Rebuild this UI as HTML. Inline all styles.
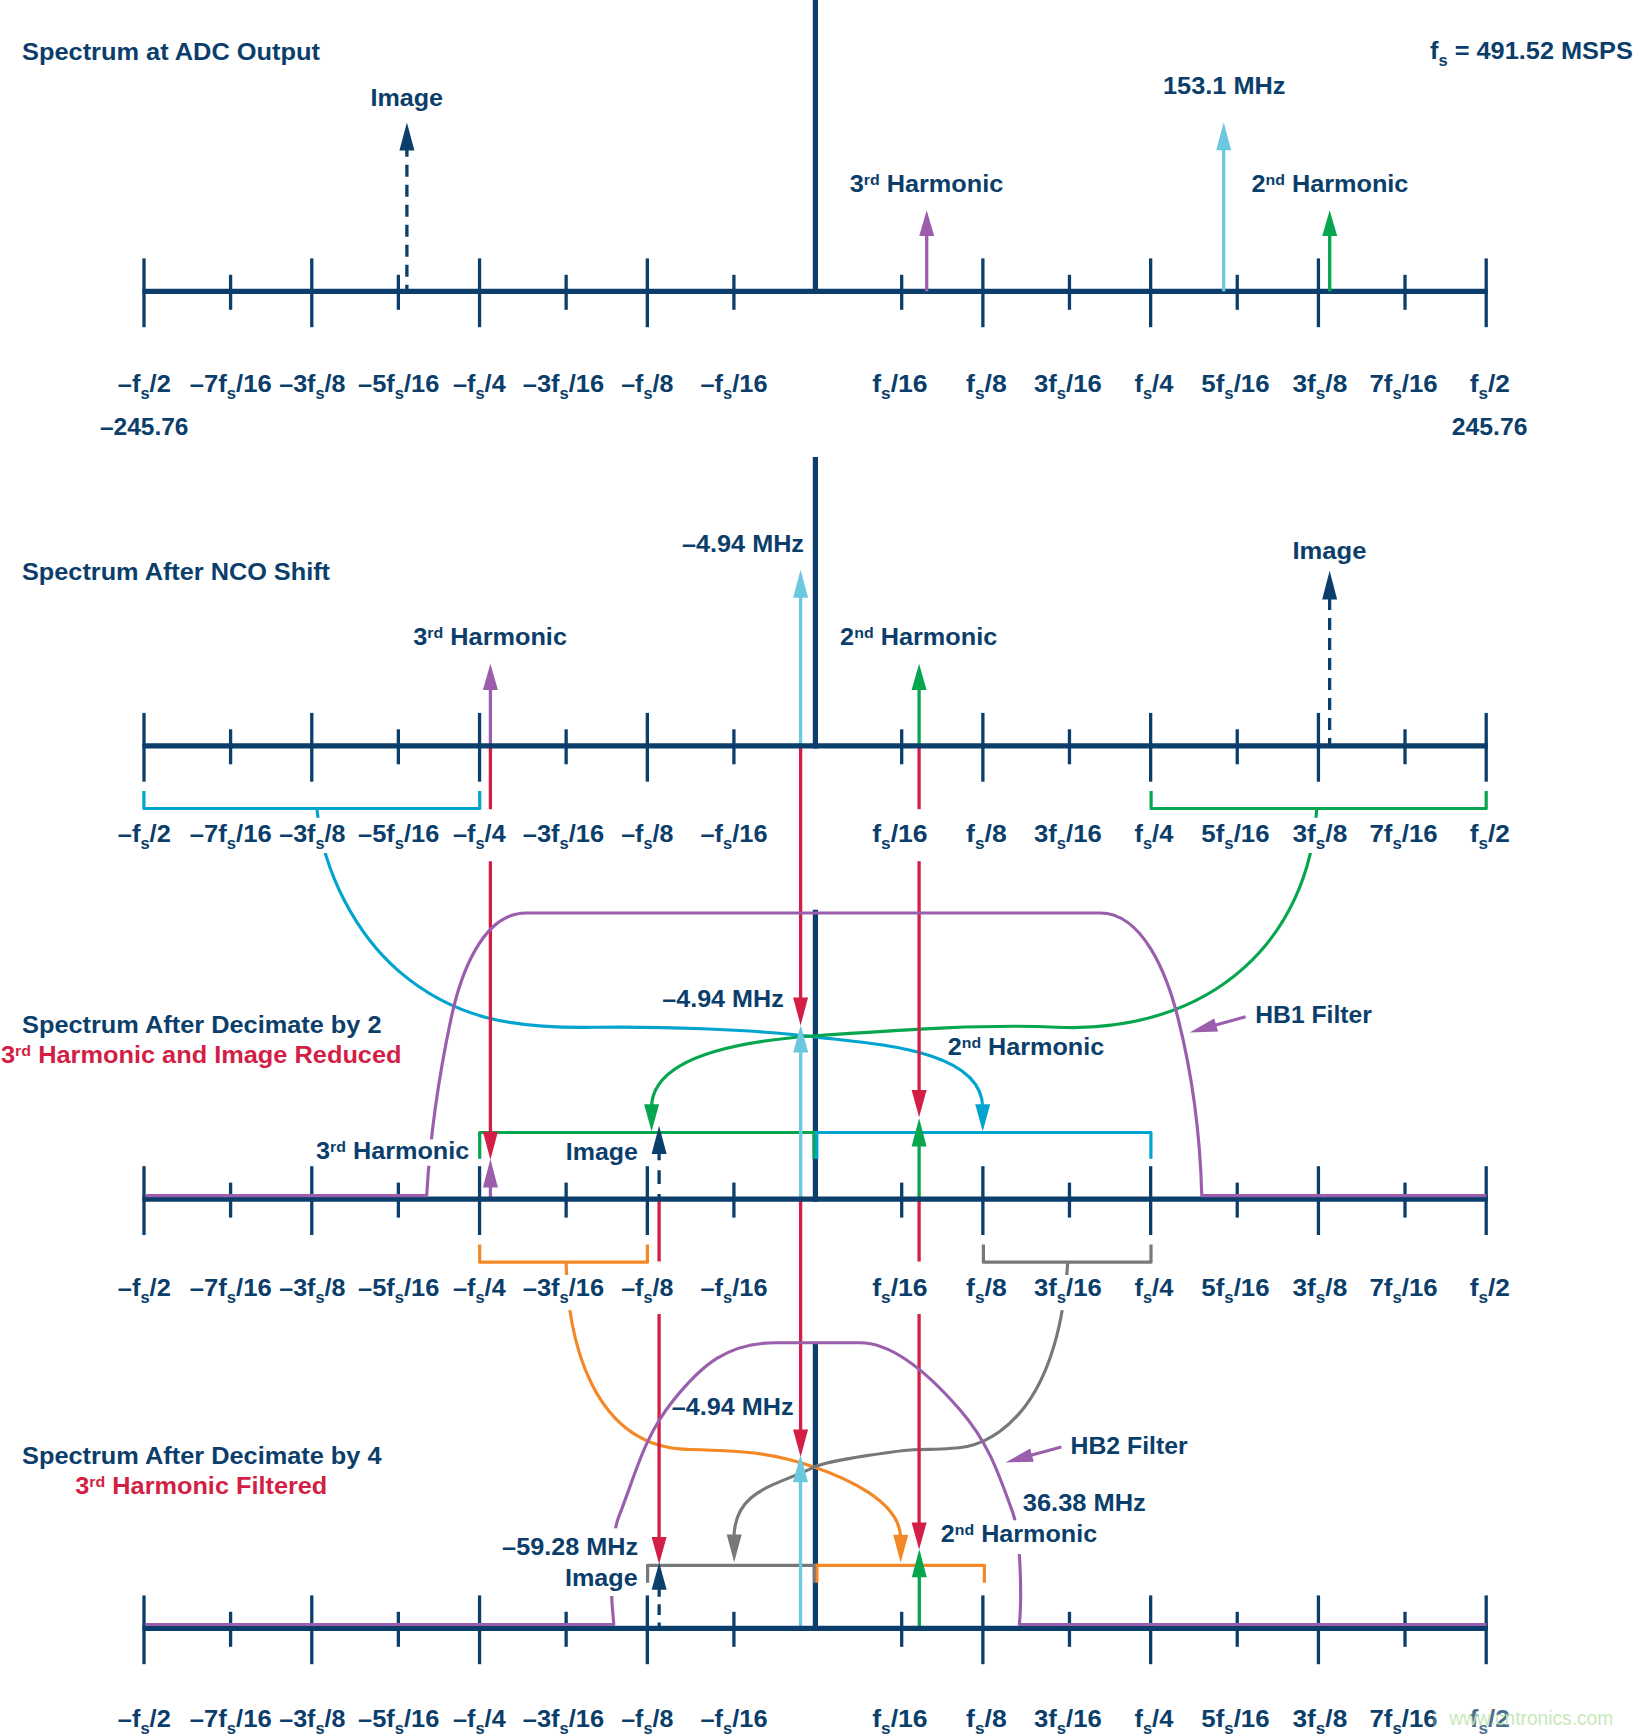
<!DOCTYPE html>
<html><head><meta charset="utf-8"><title>Spectrum decimation diagram</title>
<style>html,body{margin:0;padding:0;background:#fff}svg{display:block}text{font-family:"Liberation Sans",Arial,sans-serif;font-weight:700;white-space:pre}</style>
</head><body>
<svg width="1633" height="1734" viewBox="0 0 1633 1734">
<rect width="1633" height="1734" fill="#fff"/>
<line x1="815.4" y1="457" x2="815.4" y2="748.5" stroke="#0B3E6A" stroke-width="5.2"/>
<line x1="815.4" y1="909.7" x2="815.4" y2="1201.8" stroke="#0B3E6A" stroke-width="5.2"/>
<line x1="815.4" y1="1343.5" x2="815.4" y2="1631.0" stroke="#0B3E6A" stroke-width="5.2"/>
<path d="M317.0,809.6 C323.1,874.1 357.6,935.4 398.2,970.6 C454.3,1019.2 513.6,1028.6 594.5,1027.3 C655.7,1026.3 749.2,1029.0 814.8,1036.9 C873.4,1043.9 982.7,1048.9 982.7,1108.0" fill="none" stroke="#00A4CE" stroke-width="3.15" stroke-linejoin="round"/>
<path d="M1316.7,809.6 C1312.6,874.5 1286.6,929.1 1245.0,966.9 C1196.5,1011.1 1129.7,1030.5 1056.8,1027.2 C982.0,1023.8 894.8,1030.4 815.4,1035.8 C756.0,1039.9 651.5,1052.2 651.5,1108.0" fill="none" stroke="#06A64F" stroke-width="3.15" stroke-linejoin="round"/>
<path d="M566.2,1262.0 C566.9,1340.9 593.6,1446.6 687.1,1449.4 C739.4,1450.9 768.1,1451.4 812.5,1466.4 C844.2,1477.1 900.6,1501.1 900.6,1538.0" fill="none" stroke="#F48826" stroke-width="3.15" stroke-linejoin="round"/>
<path d="M1067.7,1262.0 C1064.1,1322.9 1048.3,1396.5 999.7,1431.5 C972.9,1450.8 955.3,1448.4 913.5,1449.7 C906.1,1449.9 829.5,1459.5 813.5,1467.4 C776.4,1485.7 734.0,1489.8 734.0,1538.0" fill="none" stroke="#77787B" stroke-width="3.15" stroke-linejoin="round"/>
<rect x="279" y="817.8" width="67" height="35.2" fill="#fff"/>
<rect x="1291" y="817.8" width="57" height="35.2" fill="#fff"/>
<rect x="522" y="1275" width="83" height="35.2" fill="#fff"/>
<rect x="1033" y="1275" width="70" height="35.2" fill="#fff"/>
<polygon points="982.7,1131.6 990.2,1104.3 975.2,1104.3" fill="#00A4CE"/>
<polygon points="651.6,1131.6 659.1,1104.3 644.1,1104.3" fill="#06A64F"/>
<polygon points="900.7,1562.7 908.2,1534.8 893.2,1534.8" fill="#F48826"/>
<polygon points="734.2,1562.3 741.7,1534.6 726.7,1534.6" fill="#77787B"/>
<path d="M143.9,791.1 V808.5 H479.7 V791.1" fill="none" stroke="#00A4CE" stroke-width="3.2" stroke-linejoin="round"/>
<path d="M1151.1,791.1 V808.5 H1486.2 V791.1" fill="none" stroke="#06A64F" stroke-width="3.2" stroke-linejoin="round"/>
<path d="M479.7,1244.5 V1262.2 H647.4 V1244.5" fill="none" stroke="#F48826" stroke-width="3.2" stroke-linejoin="round"/>
<path d="M983.4,1244.5 V1262.2 H1151 V1244.5" fill="none" stroke="#77787B" stroke-width="3.2" stroke-linejoin="round"/>
<path d="M479.7,1158.8 V1132.5 H815" fill="none" stroke="#06A64F" stroke-width="3.2" stroke-linejoin="round"/>
<path d="M815,1132.5 H1150.9 V1158.8" fill="none" stroke="#00A4CE" stroke-width="3.2" stroke-linejoin="round"/>
<line x1="813.7" y1="1130.9" x2="813.7" y2="1158.8" stroke="#06A64F" stroke-width="2.6"/>
<line x1="816.7" y1="1130.9" x2="816.7" y2="1158.8" stroke="#00A4CE" stroke-width="3.4"/>
<path d="M647.6,1582.7 V1565.4 H815" fill="none" stroke="#77787B" stroke-width="3.2" stroke-linejoin="round"/>
<path d="M815.5,1565.4 H984.4 V1582.7" fill="none" stroke="#F48826" stroke-width="3.2" stroke-linejoin="round"/>
<line x1="814.2" y1="1563.8" x2="814.2" y2="1582.7" stroke="#77787B" stroke-width="2.9"/>
<line x1="817" y1="1563.8" x2="817" y2="1582.7" stroke="#F48826" stroke-width="3.0"/>
<line x1="490.4" y1="745.9" x2="490.4" y2="809.2" stroke="#D31F45" stroke-width="3.3"/>
<line x1="490.4" y1="861.2" x2="490.4" y2="1140" stroke="#D31F45" stroke-width="3.3"/>
<polygon points="490.4,1159.7 497.9,1131.7 482.9,1131.7" fill="#D31F45"/>
<line x1="800.6" y1="745.9" x2="800.6" y2="1000" stroke="#D31F45" stroke-width="3.3"/>
<polygon points="800.6,1025.4 808.1,997.4 793.1,997.4" fill="#D31F45"/>
<line x1="919.1" y1="745.9" x2="919.1" y2="809.2" stroke="#D31F45" stroke-width="3.3"/>
<line x1="919.1" y1="861.2" x2="919.1" y2="1092" stroke="#D31F45" stroke-width="3.3"/>
<polygon points="919.1,1117.3 926.6,1090.0 911.6,1090.0" fill="#D31F45"/>
<line x1="659.1" y1="1199.2" x2="659.1" y2="1261.5" stroke="#D31F45" stroke-width="3.3"/>
<line x1="659.1" y1="1314" x2="659.1" y2="1540" stroke="#D31F45" stroke-width="3.3"/>
<polygon points="659.1,1564.0 666.6,1537.1 651.6,1537.1" fill="#D31F45"/>
<line x1="800.6" y1="1199.2" x2="800.6" y2="1432" stroke="#D31F45" stroke-width="3.3"/>
<polygon points="800.6,1457.0 808.1,1429.5 793.1,1429.5" fill="#D31F45"/>
<line x1="919.1" y1="1199.2" x2="919.1" y2="1261.5" stroke="#D31F45" stroke-width="3.3"/>
<line x1="919.1" y1="1314" x2="919.1" y2="1525" stroke="#D31F45" stroke-width="3.3"/>
<polygon points="919.1,1549.6 926.6,1522.5 911.6,1522.5" fill="#D31F45"/>
<line x1="490.4" y1="688.0" x2="490.4" y2="745.9" stroke="#9A5EAD" stroke-width="3.3"/>
<polygon points="490.4,663.6999999999999 497.9,690.0 482.9,690.0" fill="#9A5EAD"/>
<line x1="800.6" y1="595.7" x2="800.6" y2="745.9" stroke="#6CC8DF" stroke-width="3.3"/>
<polygon points="800.6,569.8 808.1,597.7 793.1,597.7" fill="#6CC8DF"/>
<line x1="919.1" y1="688.0" x2="919.1" y2="745.9" stroke="#06A64F" stroke-width="3.3"/>
<polygon points="919.1,663.6999999999999 926.6,690.0 911.6,690.0" fill="#06A64F"/>
<line x1="1329.65" y1="598" x2="1329.65" y2="745.9" stroke="#0B3E6A" stroke-width="3.3" stroke-dasharray="12 8"/>
<polygon points="1329.65,570.8 1337.15,599.5 1322.15,599.5" fill="#0B3E6A"/>
<line x1="490.4" y1="1185.5" x2="490.4" y2="1199.2" stroke="#9A5EAD" stroke-width="3.3"/>
<polygon points="490.4,1159.1 497.9,1187.5 482.9,1187.5" fill="#9A5EAD"/>
<line x1="800.7" y1="1050.6" x2="800.7" y2="1199.2" stroke="#6CC8DF" stroke-width="3.3"/>
<polygon points="800.7,1025.1 808.2,1052.6 793.2,1052.6" fill="#6CC8DF"/>
<line x1="919.1" y1="1144.5" x2="919.1" y2="1199.2" stroke="#06A64F" stroke-width="3.3"/>
<polygon points="919.1,1118.3 926.6,1146.5 911.6,1146.5" fill="#06A64F"/>
<line x1="659.1" y1="1146.6" x2="659.1" y2="1199.2" stroke="#0B3E6A" stroke-width="3.3" stroke-dasharray="13.7 10"/>
<polygon points="659.1,1125.7 666.6,1154.0 651.6,1154.0" fill="#0B3E6A"/>
<line x1="800.5" y1="1480.2" x2="800.5" y2="1628.4" stroke="#6CC8DF" stroke-width="3.3"/>
<polygon points="800.5,1454.7 808.0,1482.2 793.0,1482.2" fill="#6CC8DF"/>
<line x1="919.3" y1="1575.3000000000002" x2="919.3" y2="1628.4" stroke="#06A64F" stroke-width="3.3"/>
<polygon points="919.3,1549.2 926.8,1577.3000000000002 911.8,1577.3000000000002" fill="#06A64F"/>
<line x1="659.15" y1="1586" x2="659.15" y2="1628.4" stroke="#0B3E6A" stroke-width="3.3" stroke-dasharray="10.7 7.5"/>
<polygon points="659.15,1562.6 666.65,1589.7 651.65,1589.7" fill="#0B3E6A"/>
<line x1="142.4" y1="291.4" x2="1487.8" y2="291.4" stroke="#0B3E6A" stroke-width="5.2"/>
<line x1="815.4" y1="0" x2="815.4" y2="294.0" stroke="#0B3E6A" stroke-width="5.2"/>
<line x1="144.00" y1="258.4" x2="144.00" y2="327.2" stroke="#0B3E6A" stroke-width="3.3"/>
<line x1="230.59" y1="274.8" x2="230.59" y2="309.8" stroke="#0B3E6A" stroke-width="3.3"/>
<line x1="311.77" y1="258.4" x2="311.77" y2="327.2" stroke="#0B3E6A" stroke-width="3.3"/>
<line x1="398.36" y1="274.8" x2="398.36" y2="309.8" stroke="#0B3E6A" stroke-width="3.3"/>
<line x1="479.55" y1="258.4" x2="479.55" y2="327.2" stroke="#0B3E6A" stroke-width="3.3"/>
<line x1="566.14" y1="274.8" x2="566.14" y2="309.8" stroke="#0B3E6A" stroke-width="3.3"/>
<line x1="647.33" y1="258.4" x2="647.33" y2="327.2" stroke="#0B3E6A" stroke-width="3.3"/>
<line x1="733.91" y1="274.8" x2="733.91" y2="309.8" stroke="#0B3E6A" stroke-width="3.3"/>
<line x1="901.69" y1="274.8" x2="901.69" y2="309.8" stroke="#0B3E6A" stroke-width="3.3"/>
<line x1="982.88" y1="258.4" x2="982.88" y2="327.2" stroke="#0B3E6A" stroke-width="3.3"/>
<line x1="1069.46" y1="274.8" x2="1069.46" y2="309.8" stroke="#0B3E6A" stroke-width="3.3"/>
<line x1="1150.65" y1="258.4" x2="1150.65" y2="327.2" stroke="#0B3E6A" stroke-width="3.3"/>
<line x1="1237.24" y1="274.8" x2="1237.24" y2="309.8" stroke="#0B3E6A" stroke-width="3.3"/>
<line x1="1318.42" y1="258.4" x2="1318.42" y2="327.2" stroke="#0B3E6A" stroke-width="3.3"/>
<line x1="1405.01" y1="274.8" x2="1405.01" y2="309.8" stroke="#0B3E6A" stroke-width="3.3"/>
<line x1="1486.20" y1="258.4" x2="1486.20" y2="327.2" stroke="#0B3E6A" stroke-width="3.3"/>
<line x1="406.9" y1="144.7" x2="406.9" y2="291.4" stroke="#0B3E6A" stroke-width="3.3" stroke-dasharray="12 8"/>
<polygon points="406.9,122.6 414.4,150.5 399.4,150.5" fill="#0B3E6A"/>
<line x1="926.7" y1="233.9" x2="926.7" y2="291.4" stroke="#9A5EAD" stroke-width="3.3"/>
<polygon points="926.7,210.20000000000002 934.2,235.9 919.2,235.9" fill="#9A5EAD"/>
<line x1="1223.7" y1="148.2" x2="1223.7" y2="291.4" stroke="#6CC8DF" stroke-width="3.3"/>
<polygon points="1223.7,122.3 1231.2,150.2 1216.2,150.2" fill="#6CC8DF"/>
<line x1="1329.7" y1="234" x2="1329.7" y2="291.4" stroke="#06A64F" stroke-width="3.3"/>
<polygon points="1329.7,210.3 1337.2,236 1322.2,236" fill="#06A64F"/>
<line x1="142.4" y1="745.9" x2="1487.8" y2="745.9" stroke="#0B3E6A" stroke-width="5.2"/>
<line x1="144.00" y1="712.9" x2="144.00" y2="781.7" stroke="#0B3E6A" stroke-width="3.3"/>
<line x1="230.59" y1="729.3" x2="230.59" y2="764.3" stroke="#0B3E6A" stroke-width="3.3"/>
<line x1="311.77" y1="712.9" x2="311.77" y2="781.7" stroke="#0B3E6A" stroke-width="3.3"/>
<line x1="398.36" y1="729.3" x2="398.36" y2="764.3" stroke="#0B3E6A" stroke-width="3.3"/>
<line x1="479.55" y1="712.9" x2="479.55" y2="781.7" stroke="#0B3E6A" stroke-width="3.3"/>
<line x1="566.14" y1="729.3" x2="566.14" y2="764.3" stroke="#0B3E6A" stroke-width="3.3"/>
<line x1="647.33" y1="712.9" x2="647.33" y2="781.7" stroke="#0B3E6A" stroke-width="3.3"/>
<line x1="733.91" y1="729.3" x2="733.91" y2="764.3" stroke="#0B3E6A" stroke-width="3.3"/>
<line x1="901.69" y1="729.3" x2="901.69" y2="764.3" stroke="#0B3E6A" stroke-width="3.3"/>
<line x1="982.88" y1="712.9" x2="982.88" y2="781.7" stroke="#0B3E6A" stroke-width="3.3"/>
<line x1="1069.46" y1="729.3" x2="1069.46" y2="764.3" stroke="#0B3E6A" stroke-width="3.3"/>
<line x1="1150.65" y1="712.9" x2="1150.65" y2="781.7" stroke="#0B3E6A" stroke-width="3.3"/>
<line x1="1237.24" y1="729.3" x2="1237.24" y2="764.3" stroke="#0B3E6A" stroke-width="3.3"/>
<line x1="1318.42" y1="712.9" x2="1318.42" y2="781.7" stroke="#0B3E6A" stroke-width="3.3"/>
<line x1="1405.01" y1="729.3" x2="1405.01" y2="764.3" stroke="#0B3E6A" stroke-width="3.3"/>
<line x1="1486.20" y1="712.9" x2="1486.20" y2="781.7" stroke="#0B3E6A" stroke-width="3.3"/>
<line x1="142.4" y1="1199.2" x2="1487.8" y2="1199.2" stroke="#0B3E6A" stroke-width="5.2"/>
<line x1="144.00" y1="1166.2" x2="144.00" y2="1235.0" stroke="#0B3E6A" stroke-width="3.3"/>
<line x1="230.59" y1="1182.6" x2="230.59" y2="1217.6" stroke="#0B3E6A" stroke-width="3.3"/>
<line x1="311.77" y1="1166.2" x2="311.77" y2="1235.0" stroke="#0B3E6A" stroke-width="3.3"/>
<line x1="398.36" y1="1182.6" x2="398.36" y2="1217.6" stroke="#0B3E6A" stroke-width="3.3"/>
<line x1="479.55" y1="1166.2" x2="479.55" y2="1235.0" stroke="#0B3E6A" stroke-width="3.3"/>
<line x1="566.14" y1="1182.6" x2="566.14" y2="1217.6" stroke="#0B3E6A" stroke-width="3.3"/>
<line x1="647.33" y1="1166.2" x2="647.33" y2="1235.0" stroke="#0B3E6A" stroke-width="3.3"/>
<line x1="733.91" y1="1182.6" x2="733.91" y2="1217.6" stroke="#0B3E6A" stroke-width="3.3"/>
<line x1="901.69" y1="1182.6" x2="901.69" y2="1217.6" stroke="#0B3E6A" stroke-width="3.3"/>
<line x1="982.88" y1="1166.2" x2="982.88" y2="1235.0" stroke="#0B3E6A" stroke-width="3.3"/>
<line x1="1069.46" y1="1182.6" x2="1069.46" y2="1217.6" stroke="#0B3E6A" stroke-width="3.3"/>
<line x1="1150.65" y1="1166.2" x2="1150.65" y2="1235.0" stroke="#0B3E6A" stroke-width="3.3"/>
<line x1="1237.24" y1="1182.6" x2="1237.24" y2="1217.6" stroke="#0B3E6A" stroke-width="3.3"/>
<line x1="1318.42" y1="1166.2" x2="1318.42" y2="1235.0" stroke="#0B3E6A" stroke-width="3.3"/>
<line x1="1405.01" y1="1182.6" x2="1405.01" y2="1217.6" stroke="#0B3E6A" stroke-width="3.3"/>
<line x1="1486.20" y1="1166.2" x2="1486.20" y2="1235.0" stroke="#0B3E6A" stroke-width="3.3"/>
<line x1="142.4" y1="1628.4" x2="1487.8" y2="1628.4" stroke="#0B3E6A" stroke-width="5.2"/>
<line x1="144.00" y1="1595.4" x2="144.00" y2="1664.2" stroke="#0B3E6A" stroke-width="3.3"/>
<line x1="230.59" y1="1611.8" x2="230.59" y2="1646.8" stroke="#0B3E6A" stroke-width="3.3"/>
<line x1="311.77" y1="1595.4" x2="311.77" y2="1664.2" stroke="#0B3E6A" stroke-width="3.3"/>
<line x1="398.36" y1="1611.8" x2="398.36" y2="1646.8" stroke="#0B3E6A" stroke-width="3.3"/>
<line x1="479.55" y1="1595.4" x2="479.55" y2="1664.2" stroke="#0B3E6A" stroke-width="3.3"/>
<line x1="566.14" y1="1611.8" x2="566.14" y2="1646.8" stroke="#0B3E6A" stroke-width="3.3"/>
<line x1="647.33" y1="1595.4" x2="647.33" y2="1664.2" stroke="#0B3E6A" stroke-width="3.3"/>
<line x1="733.91" y1="1611.8" x2="733.91" y2="1646.8" stroke="#0B3E6A" stroke-width="3.3"/>
<line x1="901.69" y1="1611.8" x2="901.69" y2="1646.8" stroke="#0B3E6A" stroke-width="3.3"/>
<line x1="982.88" y1="1595.4" x2="982.88" y2="1664.2" stroke="#0B3E6A" stroke-width="3.3"/>
<line x1="1069.46" y1="1611.8" x2="1069.46" y2="1646.8" stroke="#0B3E6A" stroke-width="3.3"/>
<line x1="1150.65" y1="1595.4" x2="1150.65" y2="1664.2" stroke="#0B3E6A" stroke-width="3.3"/>
<line x1="1237.24" y1="1611.8" x2="1237.24" y2="1646.8" stroke="#0B3E6A" stroke-width="3.3"/>
<line x1="1318.42" y1="1595.4" x2="1318.42" y2="1664.2" stroke="#0B3E6A" stroke-width="3.3"/>
<line x1="1405.01" y1="1611.8" x2="1405.01" y2="1646.8" stroke="#0B3E6A" stroke-width="3.3"/>
<line x1="1486.20" y1="1595.4" x2="1486.20" y2="1664.2" stroke="#0B3E6A" stroke-width="3.3"/>
<path d="M145.8,1195.6 H426.7 L426.7,1195.6 C430.2,1133.4 438.7,1076.4 451.3,1017.4 C460.1,976.5 481.7,913.0 526.0,913.0 L1100.0,913.0 C1143.6,913.0 1167.5,976.3 1178.1,1018.5 C1192.5,1075.5 1200.2,1136.4 1201.8,1195.6 H1486.2" fill="none" stroke="#9A5EAD" stroke-width="3.15" stroke-linejoin="round"/>
<rect x="414" y="1139.4" width="30" height="26.4" fill="#fff"/>
<path d="M145.8,1624.5 H613.8 L613.8,1624.5 C610.1,1591.3 609.6,1540.1 619.0,1516.2 C636.4,1471.8 643.6,1437.3 673.4,1400.3 C701.4,1365.5 727.0,1342.7 776.0,1342.7 L860.0,1342.7 C895.7,1342.7 935.4,1381.5 959.7,1409.5 C986.6,1440.5 997.1,1468.5 1012.7,1512.4 C1020.6,1534.4 1022.0,1595.2 1019.4,1624.5 H1486.2" fill="none" stroke="#9A5EAD" stroke-width="3.15" stroke-linejoin="round"/>
<rect x="1005" y="1520.3" width="25" height="33.8" fill="#fff"/>
<rect x="600" y="1528.3" width="25" height="67.7" fill="#fff"/>
<line x1="1245.6" y1="1016.8" x2="1214" y2="1025.6" stroke="#9A5EAD" stroke-width="3.1"/>
<polygon points="1189.7,1032.4 1214.1,1018.4 1218.1,1031.6" fill="#9A5EAD"/>
<line x1="1061.3" y1="1447" x2="1030" y2="1455.6" stroke="#9A5EAD" stroke-width="3.1"/>
<polygon points="1005.5,1462.4 1030.2,1448.6 1033.7,1461.7" fill="#9A5EAD"/>
<text id="t0" transform="translate(22.00,59.80) scale(1.0320,1)" fill="#0B3E6A" font-size="24.6">Spectrum at ADC Output</text>
<text id="t1" transform="translate(1430.00,59.30) scale(1.0300,1)" fill="#0B3E6A" font-size="24.6">f<tspan font-size="16" dy="7">s</tspan><tspan dy="-7"> = 491.52 MSPS</tspan></text>
<text id="t2" transform="translate(370.40,105.90) scale(1.0226,1)" fill="#0B3E6A" font-size="24.6">Image</text>
<text id="t3" transform="translate(1163.00,94.10) scale(1.0301,1)" fill="#0B3E6A" font-size="24.6">153.1 MHz</text>
<text id="t4" transform="translate(849.70,192.00) scale(1.0276,1)" fill="#0B3E6A" font-size="24.6">3<tspan font-size="15.5" dy="-6.6">rd</tspan><tspan dy="6.6"> Harmonic</tspan></text>
<text id="t5" transform="translate(1251.40,192.00) scale(1.0274,1)" fill="#0B3E6A" font-size="24.6">2<tspan font-size="15.5" dy="-6.6">nd</tspan><tspan dy="6.6"> Harmonic</tspan></text>
<text id="t6" transform="translate(99.90,434.90) scale(0.9966,1)" fill="#0B3E6A" font-size="24.6">–245.76</text>
<text id="t7" transform="translate(1451.70,434.90) scale(1.0075,1)" fill="#0B3E6A" font-size="24.6">245.76</text>
<text id="t8" transform="translate(22.00,579.70) scale(1.0277,1)" fill="#0B3E6A" font-size="24.6">Spectrum After NCO Shift</text>
<text id="t9" transform="translate(682.00,552.20) scale(1.0259,1)" fill="#0B3E6A" font-size="24.6">–4.94 MHz</text>
<text id="t10" transform="translate(413.30,645.00) scale(1.0283,1)" fill="#0B3E6A" font-size="24.6">3<tspan font-size="15.5" dy="-6.6">rd</tspan><tspan dy="6.6"> Harmonic</tspan></text>
<text id="t11" transform="translate(1292.50,559.20) scale(1.0395,1)" fill="#0B3E6A" font-size="24.6">Image</text>
<text id="t12" transform="translate(840.10,645.00) scale(1.0281,1)" fill="#0B3E6A" font-size="24.6">2<tspan font-size="15.5" dy="-6.6">nd</tspan><tspan dy="6.6"> Harmonic</tspan></text>
<text id="t13" transform="translate(22.00,1033.40) scale(1.0304,1)" fill="#0B3E6A" font-size="24.6">Spectrum After Decimate by 2</text>
<text id="t14" transform="translate(1.00,1062.70) scale(1.0311,1)" fill="#D31F45" font-size="24.6">3<tspan font-size="15.5" dy="-6.6">rd</tspan><tspan dy="6.6"> Harmonic and Image Reduced</tspan></text>
<text id="t15" transform="translate(1255.30,1023.00) scale(1.0037,1)" fill="#0B3E6A" font-size="24.6">HB1 Filter</text>
<text id="t16" transform="translate(947.70,1054.80) scale(1.0235,1)" fill="#0B3E6A" font-size="24.6">2<tspan font-size="15.5" dy="-6.6">nd</tspan><tspan dy="6.6"> Harmonic</tspan></text>
<text id="t17" transform="translate(662.20,1007.10) scale(1.0225,1)" fill="#0B3E6A" font-size="24.6">–4.94 MHz</text>
<text id="t18" transform="translate(316.00,1158.80) scale(1.0263,1)" fill="#0B3E6A" font-size="24.6">3<tspan font-size="15.5" dy="-6.6">rd</tspan><tspan dy="6.6"> Harmonic</tspan></text>
<text id="t19" transform="translate(565.80,1159.50) scale(1.0142,1)" fill="#0B3E6A" font-size="24.6">Image</text>
<text id="t20" transform="translate(22.00,1464.00) scale(1.0304,1)" fill="#0B3E6A" font-size="24.6">Spectrum After Decimate by 4</text>
<text id="t21" transform="translate(75.30,1493.60) scale(1.0285,1)" fill="#D31F45" font-size="24.6">3<tspan font-size="15.5" dy="-6.6">rd</tspan><tspan dy="6.6"> Harmonic Filtered</tspan></text>
<text id="t22" transform="translate(671.80,1414.70) scale(1.0250,1)" fill="#0B3E6A" font-size="24.6">–4.94 MHz</text>
<text id="t23" transform="translate(502.10,1554.80) scale(1.0263,1)" fill="#0B3E6A" font-size="24.6">–59.28 MHz</text>
<text id="t24" transform="translate(564.90,1586.00) scale(1.0240,1)" fill="#0B3E6A" font-size="24.6">Image</text>
<text id="t25" transform="translate(1070.60,1454.40) scale(1.0071,1)" fill="#0B3E6A" font-size="24.6">HB2 Filter</text>
<text id="t26" transform="translate(1022.80,1510.60) scale(1.0351,1)" fill="#0B3E6A" font-size="24.6">36.38 MHz</text>
<text id="t27" transform="translate(940.80,1542.00) scale(1.0228,1)" fill="#0B3E6A" font-size="24.6">2<tspan font-size="15.5" dy="-6.6">nd</tspan><tspan dy="6.6"> Harmonic</tspan></text>
<text id="t28" transform="translate(117.80,391.70) scale(1.0332,1)" fill="#0B3E6A" font-size="24.6">–f<tspan font-size="16" dy="7">s</tspan><tspan dy="-7">/2</tspan></text>
<text id="t29" transform="translate(189.80,391.70) scale(1.0412,1)" fill="#0B3E6A" font-size="24.6">–7f<tspan font-size="16" dy="7">s</tspan><tspan dy="-7">/16</tspan></text>
<text id="t30" transform="translate(279.20,391.70) scale(1.0205,1)" fill="#0B3E6A" font-size="24.6">–3f<tspan font-size="16" dy="7">s</tspan><tspan dy="-7">/8</tspan></text>
<text id="t31" transform="translate(358.00,391.70) scale(1.0349,1)" fill="#0B3E6A" font-size="24.6">–5f<tspan font-size="16" dy="7">s</tspan><tspan dy="-7">/16</tspan></text>
<text id="t32" transform="translate(453.00,391.70) scale(1.0274,1)" fill="#0B3E6A" font-size="24.6">–f<tspan font-size="16" dy="7">s</tspan><tspan dy="-7">/4</tspan></text>
<text id="t33" transform="translate(522.80,391.70) scale(1.0349,1)" fill="#0B3E6A" font-size="24.6">–3f<tspan font-size="16" dy="7">s</tspan><tspan dy="-7">/16</tspan></text>
<text id="t34" transform="translate(621.20,391.70) scale(1.0176,1)" fill="#0B3E6A" font-size="24.6">–f<tspan font-size="16" dy="7">s</tspan><tspan dy="-7">/8</tspan></text>
<text id="t35" transform="translate(700.50,391.70) scale(1.0326,1)" fill="#0B3E6A" font-size="24.6">–f<tspan font-size="16" dy="7">s</tspan><tspan dy="-7">/16</tspan></text>
<text id="t36" transform="translate(872.20,391.70) scale(1.0816,1)" fill="#0B3E6A" font-size="24.6">f<tspan font-size="16" dy="7">s</tspan><tspan dy="-7">/16</tspan></text>
<text id="t37" transform="translate(966.10,391.70) scale(1.0817,1)" fill="#0B3E6A" font-size="24.6">f<tspan font-size="16" dy="7">s</tspan><tspan dy="-7">/8</tspan></text>
<text id="t38" transform="translate(1034.00,391.70) scale(1.0418,1)" fill="#0B3E6A" font-size="24.6">3f<tspan font-size="16" dy="7">s</tspan><tspan dy="-7">/16</tspan></text>
<text id="t39" transform="translate(1134.40,391.70) scale(1.0339,1)" fill="#0B3E6A" font-size="24.6">f<tspan font-size="16" dy="7">s</tspan><tspan dy="-7">/4</tspan></text>
<text id="t40" transform="translate(1201.30,391.70) scale(1.0510,1)" fill="#0B3E6A" font-size="24.6">5f<tspan font-size="16" dy="7">s</tspan><tspan dy="-7">/16</tspan></text>
<text id="t41" transform="translate(1292.50,391.70) scale(1.0683,1)" fill="#0B3E6A" font-size="24.6">3f<tspan font-size="16" dy="7">s</tspan><tspan dy="-7">/8</tspan></text>
<text id="t42" transform="translate(1369.40,391.70) scale(1.0510,1)" fill="#0B3E6A" font-size="24.6">7f<tspan font-size="16" dy="7">s</tspan><tspan dy="-7">/16</tspan></text>
<text id="t43" transform="translate(1469.80,391.70) scale(1.0684,1)" fill="#0B3E6A" font-size="24.6">f<tspan font-size="16" dy="7">s</tspan><tspan dy="-7">/2</tspan></text>
<text id="t44" transform="translate(117.80,842.40) scale(1.0332,1)" fill="#0B3E6A" font-size="24.6">–f<tspan font-size="16" dy="7">s</tspan><tspan dy="-7">/2</tspan></text>
<text id="t45" transform="translate(189.80,842.40) scale(1.0412,1)" fill="#0B3E6A" font-size="24.6">–7f<tspan font-size="16" dy="7">s</tspan><tspan dy="-7">/16</tspan></text>
<text id="t46" transform="translate(279.20,842.40) scale(1.0205,1)" fill="#0B3E6A" font-size="24.6">–3f<tspan font-size="16" dy="7">s</tspan><tspan dy="-7">/8</tspan></text>
<text id="t47" transform="translate(358.00,842.40) scale(1.0349,1)" fill="#0B3E6A" font-size="24.6">–5f<tspan font-size="16" dy="7">s</tspan><tspan dy="-7">/16</tspan></text>
<text id="t48" transform="translate(453.00,842.40) scale(1.0274,1)" fill="#0B3E6A" font-size="24.6">–f<tspan font-size="16" dy="7">s</tspan><tspan dy="-7">/4</tspan></text>
<text id="t49" transform="translate(522.80,842.40) scale(1.0349,1)" fill="#0B3E6A" font-size="24.6">–3f<tspan font-size="16" dy="7">s</tspan><tspan dy="-7">/16</tspan></text>
<text id="t50" transform="translate(621.20,842.40) scale(1.0176,1)" fill="#0B3E6A" font-size="24.6">–f<tspan font-size="16" dy="7">s</tspan><tspan dy="-7">/8</tspan></text>
<text id="t51" transform="translate(700.50,842.40) scale(1.0326,1)" fill="#0B3E6A" font-size="24.6">–f<tspan font-size="16" dy="7">s</tspan><tspan dy="-7">/16</tspan></text>
<text id="t52" transform="translate(872.20,842.40) scale(1.0816,1)" fill="#0B3E6A" font-size="24.6">f<tspan font-size="16" dy="7">s</tspan><tspan dy="-7">/16</tspan></text>
<text id="t53" transform="translate(966.10,842.40) scale(1.0817,1)" fill="#0B3E6A" font-size="24.6">f<tspan font-size="16" dy="7">s</tspan><tspan dy="-7">/8</tspan></text>
<text id="t54" transform="translate(1034.00,842.40) scale(1.0418,1)" fill="#0B3E6A" font-size="24.6">3f<tspan font-size="16" dy="7">s</tspan><tspan dy="-7">/16</tspan></text>
<text id="t55" transform="translate(1134.40,842.40) scale(1.0339,1)" fill="#0B3E6A" font-size="24.6">f<tspan font-size="16" dy="7">s</tspan><tspan dy="-7">/4</tspan></text>
<text id="t56" transform="translate(1201.30,842.40) scale(1.0510,1)" fill="#0B3E6A" font-size="24.6">5f<tspan font-size="16" dy="7">s</tspan><tspan dy="-7">/16</tspan></text>
<text id="t57" transform="translate(1292.50,842.40) scale(1.0683,1)" fill="#0B3E6A" font-size="24.6">3f<tspan font-size="16" dy="7">s</tspan><tspan dy="-7">/8</tspan></text>
<text id="t58" transform="translate(1369.40,842.40) scale(1.0510,1)" fill="#0B3E6A" font-size="24.6">7f<tspan font-size="16" dy="7">s</tspan><tspan dy="-7">/16</tspan></text>
<text id="t59" transform="translate(1469.80,842.40) scale(1.0684,1)" fill="#0B3E6A" font-size="24.6">f<tspan font-size="16" dy="7">s</tspan><tspan dy="-7">/2</tspan></text>
<text id="t60" transform="translate(117.80,1296.30) scale(1.0332,1)" fill="#0B3E6A" font-size="24.6">–f<tspan font-size="16" dy="7">s</tspan><tspan dy="-7">/2</tspan></text>
<text id="t61" transform="translate(189.80,1296.30) scale(1.0412,1)" fill="#0B3E6A" font-size="24.6">–7f<tspan font-size="16" dy="7">s</tspan><tspan dy="-7">/16</tspan></text>
<text id="t62" transform="translate(279.20,1296.30) scale(1.0205,1)" fill="#0B3E6A" font-size="24.6">–3f<tspan font-size="16" dy="7">s</tspan><tspan dy="-7">/8</tspan></text>
<text id="t63" transform="translate(358.00,1296.30) scale(1.0349,1)" fill="#0B3E6A" font-size="24.6">–5f<tspan font-size="16" dy="7">s</tspan><tspan dy="-7">/16</tspan></text>
<text id="t64" transform="translate(453.00,1296.30) scale(1.0274,1)" fill="#0B3E6A" font-size="24.6">–f<tspan font-size="16" dy="7">s</tspan><tspan dy="-7">/4</tspan></text>
<text id="t65" transform="translate(522.80,1296.30) scale(1.0349,1)" fill="#0B3E6A" font-size="24.6">–3f<tspan font-size="16" dy="7">s</tspan><tspan dy="-7">/16</tspan></text>
<text id="t66" transform="translate(621.20,1296.30) scale(1.0176,1)" fill="#0B3E6A" font-size="24.6">–f<tspan font-size="16" dy="7">s</tspan><tspan dy="-7">/8</tspan></text>
<text id="t67" transform="translate(700.50,1296.30) scale(1.0326,1)" fill="#0B3E6A" font-size="24.6">–f<tspan font-size="16" dy="7">s</tspan><tspan dy="-7">/16</tspan></text>
<text id="t68" transform="translate(872.20,1296.30) scale(1.0816,1)" fill="#0B3E6A" font-size="24.6">f<tspan font-size="16" dy="7">s</tspan><tspan dy="-7">/16</tspan></text>
<text id="t69" transform="translate(966.10,1296.30) scale(1.0817,1)" fill="#0B3E6A" font-size="24.6">f<tspan font-size="16" dy="7">s</tspan><tspan dy="-7">/8</tspan></text>
<text id="t70" transform="translate(1034.00,1296.30) scale(1.0418,1)" fill="#0B3E6A" font-size="24.6">3f<tspan font-size="16" dy="7">s</tspan><tspan dy="-7">/16</tspan></text>
<text id="t71" transform="translate(1134.40,1296.30) scale(1.0339,1)" fill="#0B3E6A" font-size="24.6">f<tspan font-size="16" dy="7">s</tspan><tspan dy="-7">/4</tspan></text>
<text id="t72" transform="translate(1201.30,1296.30) scale(1.0510,1)" fill="#0B3E6A" font-size="24.6">5f<tspan font-size="16" dy="7">s</tspan><tspan dy="-7">/16</tspan></text>
<text id="t73" transform="translate(1292.50,1296.30) scale(1.0683,1)" fill="#0B3E6A" font-size="24.6">3f<tspan font-size="16" dy="7">s</tspan><tspan dy="-7">/8</tspan></text>
<text id="t74" transform="translate(1369.40,1296.30) scale(1.0510,1)" fill="#0B3E6A" font-size="24.6">7f<tspan font-size="16" dy="7">s</tspan><tspan dy="-7">/16</tspan></text>
<text id="t75" transform="translate(1469.80,1296.30) scale(1.0684,1)" fill="#0B3E6A" font-size="24.6">f<tspan font-size="16" dy="7">s</tspan><tspan dy="-7">/2</tspan></text>
<text id="t76" transform="translate(117.80,1726.50) scale(1.0332,1)" fill="#0B3E6A" font-size="24.6">–f<tspan font-size="16" dy="7">s</tspan><tspan dy="-7">/2</tspan></text>
<text id="t77" transform="translate(189.80,1726.50) scale(1.0412,1)" fill="#0B3E6A" font-size="24.6">–7f<tspan font-size="16" dy="7">s</tspan><tspan dy="-7">/16</tspan></text>
<text id="t78" transform="translate(279.20,1726.50) scale(1.0205,1)" fill="#0B3E6A" font-size="24.6">–3f<tspan font-size="16" dy="7">s</tspan><tspan dy="-7">/8</tspan></text>
<text id="t79" transform="translate(358.00,1726.50) scale(1.0349,1)" fill="#0B3E6A" font-size="24.6">–5f<tspan font-size="16" dy="7">s</tspan><tspan dy="-7">/16</tspan></text>
<text id="t80" transform="translate(453.00,1726.50) scale(1.0274,1)" fill="#0B3E6A" font-size="24.6">–f<tspan font-size="16" dy="7">s</tspan><tspan dy="-7">/4</tspan></text>
<text id="t81" transform="translate(522.80,1726.50) scale(1.0349,1)" fill="#0B3E6A" font-size="24.6">–3f<tspan font-size="16" dy="7">s</tspan><tspan dy="-7">/16</tspan></text>
<text id="t82" transform="translate(621.20,1726.50) scale(1.0176,1)" fill="#0B3E6A" font-size="24.6">–f<tspan font-size="16" dy="7">s</tspan><tspan dy="-7">/8</tspan></text>
<text id="t83" transform="translate(700.50,1726.50) scale(1.0326,1)" fill="#0B3E6A" font-size="24.6">–f<tspan font-size="16" dy="7">s</tspan><tspan dy="-7">/16</tspan></text>
<text id="t84" transform="translate(872.20,1726.50) scale(1.0816,1)" fill="#0B3E6A" font-size="24.6">f<tspan font-size="16" dy="7">s</tspan><tspan dy="-7">/16</tspan></text>
<text id="t85" transform="translate(966.10,1726.50) scale(1.0817,1)" fill="#0B3E6A" font-size="24.6">f<tspan font-size="16" dy="7">s</tspan><tspan dy="-7">/8</tspan></text>
<text id="t86" transform="translate(1034.00,1726.50) scale(1.0418,1)" fill="#0B3E6A" font-size="24.6">3f<tspan font-size="16" dy="7">s</tspan><tspan dy="-7">/16</tspan></text>
<text id="t87" transform="translate(1134.40,1726.50) scale(1.0339,1)" fill="#0B3E6A" font-size="24.6">f<tspan font-size="16" dy="7">s</tspan><tspan dy="-7">/4</tspan></text>
<text id="t88" transform="translate(1201.30,1726.50) scale(1.0510,1)" fill="#0B3E6A" font-size="24.6">5f<tspan font-size="16" dy="7">s</tspan><tspan dy="-7">/16</tspan></text>
<text id="t89" transform="translate(1292.50,1726.50) scale(1.0683,1)" fill="#0B3E6A" font-size="24.6">3f<tspan font-size="16" dy="7">s</tspan><tspan dy="-7">/8</tspan></text>
<text id="t90" transform="translate(1369.40,1726.50) scale(1.0510,1)" fill="#0B3E6A" font-size="24.6">7f<tspan font-size="16" dy="7">s</tspan><tspan dy="-7">/16</tspan></text>
<text id="t91" transform="translate(1469.80,1726.50) scale(1.0684,1)" fill="#0B3E6A" font-size="24.6">f<tspan font-size="16" dy="7">s</tspan><tspan dy="-7">/2</tspan></text>
<rect x="1433" y="1704" width="200" height="30" fill="#fff" fill-opacity="0.25"/>
<text x="1449.2" y="1724.6" font-size="20.4" style="font-weight:400" textLength="164" lengthAdjust="spacingAndGlyphs" fill="#bfe6b2" fill-opacity="0.92">www.cntronics.com</text>
</svg>
</body></html>
